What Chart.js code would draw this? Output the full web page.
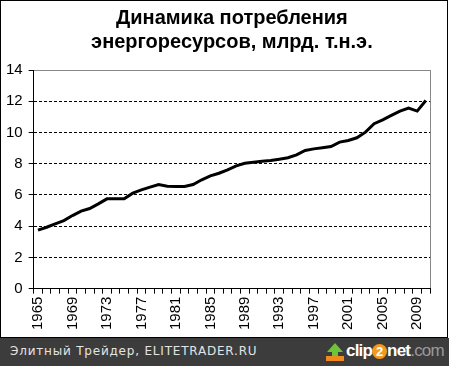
<!DOCTYPE html>
<html>
<head>
<meta charset="utf-8">
<script src="https://cdn.jsdelivr.net/npm/chart.js@4"></script>
<style>
  body { margin: 0; background: #fff; width: 449px; height: 366px; overflow: hidden; position: relative; }
  #frame { position: absolute; left: 0; top: 0; width: 448px; height: 338px; box-sizing: border-box; border: 1px solid #000; background: #fff; overflow: hidden; }
  #frame canvas { position: absolute; left: 0; top: 0; }
  #banner { position: absolute; left: 0; top: 338px; width: 449px; height: 28px; background: #3c3c3c; }
  #banner .site { position: absolute; left: 10px; top: 6px; font: 12px "DejaVu Sans", sans-serif; letter-spacing: 0.8px; color: #e4e4e4; }
  #banner .logo { position: absolute; left: 325px; top: 3px; height: 22px; }
  .arrow { position: absolute; left: 2px; top: 2px; width: 0; height: 0; border-left: 8px solid transparent; border-right: 8px solid transparent; border-bottom: 9px solid #6fc23a; }
  .stem { position: absolute; left: 7px; top: 10px; width: 6px; height: 5px; background: #6fc23a; }
  .bar { position: absolute; left: 1px; top: 15px; width: 18px; height: 5px; background: #f08a1c; }
  .brand { position: absolute; left: 21px; top: 0; font: bold 17px "Liberation Sans", Arial, sans-serif; letter-spacing: -0.8px; color: #fff; white-space: nowrap; }
  .brand .two { display: inline-block; width: 15px; height: 15px; line-height: 15px; border-radius: 8px; background: #f39a1e; text-align: center; font-size: 13px; letter-spacing: 0; }
  .brand .com { color: #9a9a9a; font-weight: normal; }
</style>
</head>
<body>
<div id="frame"><canvas id="myChart" width="446" height="336"></canvas></div>
<div id="banner">
  <div class="site">Элитный Трейдер, ELITETRADER.RU</div>
  <div class="logo">
    <div class="arrow"></div><div class="stem"></div><div class="bar"></div>
    <div class="brand">clip<span class="two">2</span>net<span class="com">.com</span></div>
  </div>
</div>
<script>
// годы и потребление, млрд. т.н.э.
const years = [1965, 1966, 1967, 1968, 1969, 1970, 1971, 1972, 1973, 1974,
    1975, 1976, 1977, 1978, 1979, 1980, 1981, 1982, 1983, 1984,
    1985, 1986, 1987, 1988, 1989, 1990, 1991, 1992, 1993, 1994,
    1995, 1996, 1997, 1998, 1999, 2000, 2001, 2002, 2003, 2004,
    2005, 2006, 2007, 2008, 2009, 2010];
const consumption = [3.75, 3.93, 4.15, 4.36, 4.68, 4.96, 5.13, 5.43, 5.75, 5.75,
    5.75, 6.11, 6.32, 6.50, 6.67, 6.56, 6.54, 6.54, 6.67, 6.97,
    7.22, 7.39, 7.61, 7.86, 8.03, 8.10, 8.16, 8.21, 8.29, 8.38,
    8.57, 8.85, 8.95, 9.02, 9.10, 9.38, 9.49, 9.66, 10.02, 10.56,
    10.81, 11.09, 11.37, 11.56, 11.37, 12.05];
const labelStep = 4;
const yMin = 0, yMax = 14, yStep = 2;
const titleLines = ['Динамика потребления', 'энергоресурсов, млрд. т.н.э.'];

function setupChartLine(canvasId) {
    const ctx = document.getElementById(canvasId)?.getContext('2d');
    if (!ctx) return;

    const tickFont = { family: '"Liberation Sans", Arial, sans-serif', size: 15 };

    new Chart(ctx, {
        type: 'line',
        data: {
            labels: years.map(String),
            datasets: [{
                data: consumption,
                borderColor: '#000',
                borderWidth: 3,
                pointRadius: 0,
                tension: 0,
                fill: false
            }]
        },
        options: {
            responsive: false,
            animation: false,
            layout: { padding: { left: -1, right: 8, top: 0, bottom: 4 } },
            plugins: {
                legend: { display: false },
                tooltip: { enabled: false },
                title: {
                    display: true,
                    text: titleLines,
                    color: '#000',
                    fullSize: false,
                    font: { family: '"Liberation Sans", Arial, sans-serif', size: 20, weight: 'bold', lineHeight: 1.2 },
                    padding: { top: 5, bottom: 16 }
                }
            },
            scales: {
                x: {
                    offset: true,
                    grid: {
                        offset: true,
                        drawOnChartArea: true,
                        // only the last boundary line is drawn: grey frame on the right
                        color: (c) => c.type === 'tick' ? 'rgba(0,0,0,0)' : '#888',
                        tickColor: '#000',
                        tickLength: 5
                    },
                    border: { color: '#000', width: 1 },
                    ticks: {
                        autoSkip: false,
                        minRotation: 90,
                        maxRotation: 90,
                        padding: 3,
                        color: '#000',
                        font: tickFont,
                        callback: function (val, i) {
                            return i % labelStep === 0 ? this.getLabelForValue(val) : '';
                        }
                    }
                },
                y: {
                    min: yMin,
                    max: yMax,
                    grid: {
                        color: (c) => c.tick && c.tick.value === yMax ? '#888' : '#000',
                        tickColor: '#000',
                        tickLength: 5
                    },
                    border: {
                        color: '#000',
                        width: 1,
                        dash: (c) => c.tick && c.tick.value === yMax ? [] : [3, 2]
                    },
                    ticks: {
                        stepSize: yStep,
                        padding: 6,
                        color: '#000',
                        font: tickFont
                    }
                }
            }
        }
    });
}

setupChartLine('myChart');
</script>
</body>
</html>
